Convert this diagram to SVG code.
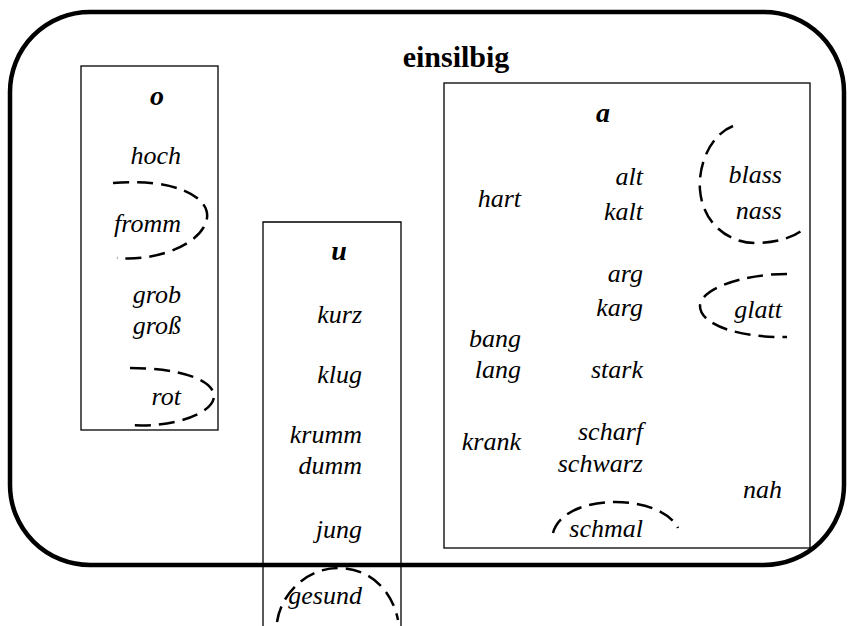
<svg xmlns="http://www.w3.org/2000/svg" width="853" height="626" viewBox="0 0 853 626">
<style>
text{font-family:"Liberation Serif","Times New Roman",serif;fill:#000}
.w{font-style:italic;font-size:26px;text-anchor:end}
.h{font-style:italic;font-weight:bold;font-size:28px;text-anchor:middle}
.box{fill:none;stroke:#000;stroke-width:1.3}
.d{fill:none;stroke:#000;stroke-width:2.5;stroke-dasharray:16,8}
</style>
<rect width="853" height="626" fill="#fff"/>
<g id="box-o">
<rect class="box" x="81" y="66" width="137" height="364"/>
<text class="h" x="157" y="105">o</text>
<text class="w" x="181" y="164">hoch</text>
<text class="w" x="181" y="232">fromm</text>
<text class="w" x="181" y="303">grob</text>
<text class="w" x="181" y="334">groß</text>
<text class="w" x="181" y="405">rot</text>
</g>
<g id="box-u">
<path class="box" d="M263 630 V222 H401 V630"/>
<text class="h" x="339" y="260">u</text>
<text class="w" x="362" y="323">kurz</text>
<text class="w" x="362" y="383">klug</text>
<text class="w" x="362" y="443">krumm</text>
<text class="w" x="362" y="474">dumm</text>
<text class="w" x="362" y="538">jung</text>
<text class="w" x="362" y="604">gesund</text>
</g>
<g id="box-a">
<rect class="box" x="444" y="83" width="366" height="465"/>
<text class="h" x="603" y="122">a</text>
<text class="w" x="521" y="207">hart</text>
<text class="w" x="521" y="347">bang</text>
<text class="w" x="521" y="378">lang</text>
<text class="w" x="521" y="450">krank</text>
<text class="w" x="643" y="185">alt</text>
<text class="w" x="643" y="220">kalt</text>
<text class="w" x="643" y="282">arg</text>
<text class="w" x="643" y="316">karg</text>
<text class="w" x="643" y="378">stark</text>
<text class="w" x="643" y="440">scharf</text>
<text class="w" x="643" y="472">schwarz</text>
<text class="w" x="643" y="537">schmal</text>
<text class="w" x="782" y="183">blass</text>
<text class="w" x="782" y="219">nass</text>
<text class="w" x="782" y="318">glatt</text>
<text class="w" x="782" y="498">nah</text>
</g>
<g id="einsilbig">
<rect x="10" y="12" width="834" height="553" rx="80" ry="80" fill="none" stroke="#000" stroke-width="4.5"/>
<text x="456" y="67" font-weight="bold" font-size="30" text-anchor="middle">einsilbig</text>
</g>
<g id="connectors">
<path class="d" d="M113 183 C170 178 210 195 207 218 C204 242 160 262 117 258"/>
<path class="d" d="M130 368 C180 368 215 380 214 397 C212 415 170 428 130 425"/>
<path class="d" d="M277 622 C282 590 310 568 338 568 C370 568 392 590 398 620"/>
<path class="d" d="M733 126 C710 135 698 165 700 190 C703 225 730 243 755 243 C780 243 800 235 806 226"/>
<path class="d" d="M787 274 C740 274 700 290 700 306 C700 325 740 338 787 337"/>
<path class="d" d="M553 533 C558 513 585 502 615 502 C645 502 670 512 678 528"/>
</g>
</svg>
